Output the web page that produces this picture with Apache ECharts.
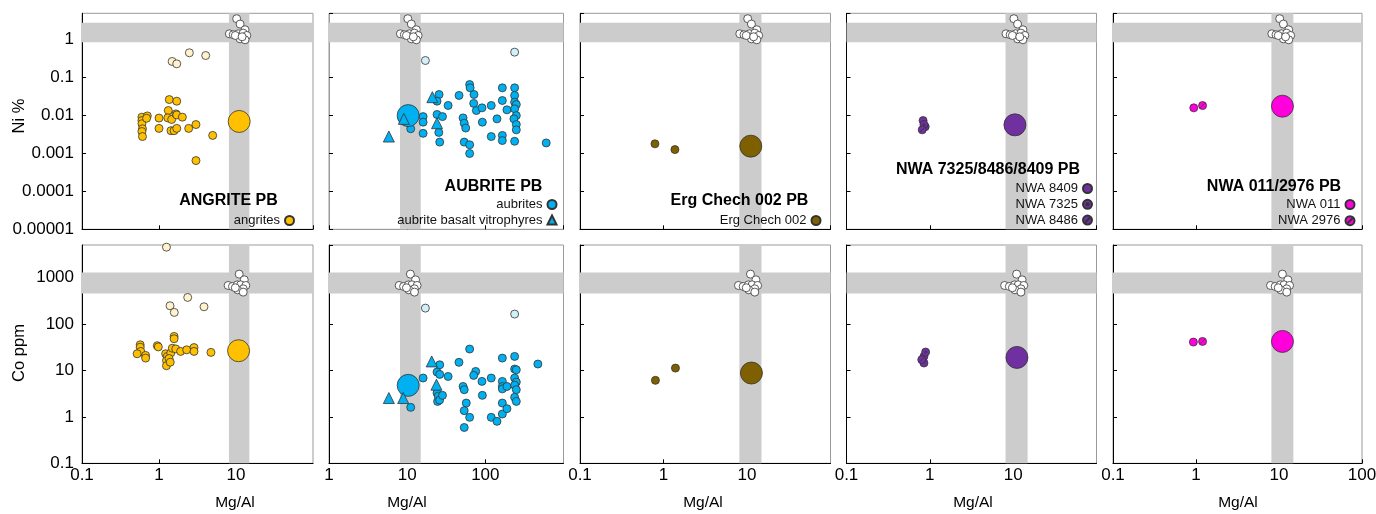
<!DOCTYPE html>
<html>
<head>
<meta charset="utf-8">
<script src="https://cdn.jsdelivr.net/npm/echarts@6/dist/echarts.min.js"></script>
<style>html,body{margin:0;padding:0;background:#fff;}#c{width:1376px;height:514px;}</style>
</head>
<body>
<div id="c"></div>
<script>
// ---------- axis ranges ----------
const xRanges = [[0.1, 100], [1, 1000], [0.1, 100], [0.1, 100], [0.1, 100]];
const yRangeNi = [0.00001, 5];
const yRangeCo = [0.1, 5000];
// reference bands
const bandMgAl = [8.1, 14.9];
const bandNi = [0.86, 2.8];
const bandCo = [450, 1280];

// ---------- chondrite reference (white) ----------
const chondNi = [[10.2,3.6],[11.3,2.6],[13.1,1.84],[8.2,1.44],[9.2,1.36],[10.7,1.44],[12.4,1.5],[13.8,1.3],[11.3,1.06],[13.1,1.0],[9.8,1.3],[12,1.2]];
const chondCo = [[11,1180],[12.8,890],[7.9,673],[9,640],[10.4,695],[11.5,695],[13.4,673],[12.4,570],[10.5,543],[12.4,484],[9.8,600]];

// ---------- angrites ----------
const angriteNi = [[0.6,0.0091],[0.6,0.0074],[0.6,0.0061],[0.61,0.0045],[0.6,0.0038],[0.61,0.0028],[0.705,0.0098],[0.69,0.0085],[1.0,0.0086],[1.0,0.0046],[1.36,0.0265],[1.7,0.024],[1.32,0.0136],[1.3,0.0087],[1.46,0.0079],[1.66,0.0111],[1.7,0.0104],[2.01,0.0091],[1.43,0.004],[1.57,0.004],[1.7,0.0046],[2.43,0.0046],[3.02,0.0058],[4.98,0.003],[3.02,0.00065]];
const angriteCo = [[0.57,35.6],[0.57,31.6],[0.58,25.6],[0.52,22.8],[0.67,21],[0.67,18.4],[0.95,34],[0.98,32],[1.22,22.8],[1.28,20],[1.25,16.3],[1.25,12.6],[1.42,23.7],[1.57,53.8],[1.57,48],[1.49,30],[1.65,29],[1.91,25.6],[2.29,27.7],[2.85,31],[2.85,25.6],[4.73,24.4],[1.35,18],[1.4,15]];
const angritePaleNi = [[1.48,0.268],[1.7,0.232],[2.48,0.454],[4.04,0.385]];
const angritePaleCo = [[1.25,4490],[1.39,246],[1.58,177],[2.36,372],[3.84,234]];
const angritePBNi = [[11,0.007]];
const angritePBCo = [[10.8,26.5]];

// ---------- aubrites ----------
const aubriteNi = [[11.1,0.0045],[16,0.0094],[16,0.0067],[16,0.0034],[25.6,0.036],[24.1,0.024],[24.1,0.0107],[28.3,0.0094],[25.4,0.0036],[26.1,0.002],[33.4,0.0185],[46.1,0.034],[63,0.066],[63.9,0.054],[71.6,0.036],[71,0.021],[76.8,0.0136],[90.6,0.016],[51.9,0.0087],[53.7,0.0063],[56.1,0.0047],[53.7,0.002],[63,0.0017],[63,0.001],[91.6,0.0067],[119,0.0185],[141,0.0082],[119,0.0028],[165,0.054],[165,0.025],[165,0.003],[165,0.0022],[189,0.0142],[237,0.054],[237,0.034],[237,0.0226],[249,0.0196],[237,0.0151],[249,0.01],[232,0.0082],[249,0.0058],[249,0.0042],[237,0.0021],[601,0.0019]];
const aubriteCo = [[11.1,1.6],[16,6.85],[26.1,13.2],[24.1,9.2],[26.1,8.2],[24.1,3.26],[25,2.8],[24.5,2.15],[26,2.3],[28.3,2.9],[33.4,7.4],[46,14.9],[63,28.8],[75.3,9.5],[71,7.8],[51.9,4.5],[53.7,3.84],[57,1.98],[53.7,1.36],[63,0.975],[53.7,0.59],[90.6,5.8],[91.6,2.9],[119,6.85],[119,0.975],[141,0.8],[165,18.4],[165,5.8],[165,4.5],[165,4.0],[165,1.98],[165,1.15],[189,4.5],[189,1.5],[237,20],[237,10.7],[249,10.3],[237,6.85],[249,5.6],[237,4.8],[249,3.84],[237,2.63],[249,2.15],[470,13.7]];
const vitroNi = [[5.83,0.0028],[9.06,0.0082],[21,0.0306],[24.1,0.0063]];
const vitroCo = [[5.83,2.54],[8.9,2.54],[20.6,15.6],[23.7,4.92]];
const aubritePaleNi = [[17.1,0.284],[237,0.472]];
const aubritePaleCo = [[17.1,219],[237,163]];
const aubritePBNi = [[10.3,0.01]];
const aubritePBCo = [[10.3,4.76]];

// ---------- Erg Chech 002 ----------
const ergNi = [[0.79,0.0018],[1.37,0.00127]];
const ergCo = [[0.8,6.1],[1.39,11.2]];
const ergPBNi = [[11.1,0.00156]];
const ergPBCo = [[11.3,8.77]];

// ---------- NWA 7325 / 8486 / 8409 ----------
const nwa8409Ni = [[0.83,0.0074],[0.88,0.0051]];
const nwa7325Ni = [[0.85,0.0058]];
const nwa8486Ni = [[0.81,0.0042]];
const nwa8409Co = [[0.85,20],[0.85,14.4]];
const nwa7325Co = [[0.89,24.8]];
const nwa8486Co = [[0.8,17]];
const nwaPBNi = [[10.5,0.0057]];
const nwaPBCo = [[11.1,19]];

// ---------- NWA 011 / 2976 ----------
const nwa011Ni = [[0.94,0.016]];
const nwa2976Ni = [[1.2,0.0184]];
const nwa011Co = [[0.93,40.7]];
const nwa2976Co = [[1.2,42]];
const nwa011PBNi = [[11,0.0177]];
const nwa011PBCo = [[11,42]];

// ---------- layout ----------
const FONT = '"Liberation Sans", Arial, sans-serif';
const colLayout = [
  {left: 82, width: 231},
  {left: 329, width: 234.5},
  {left: 580, width: 250.5},
  {left: 846.5, width: 250},
  {left: 1113, width: 249}
];
const rowLayout = [{top: 13.3, height: 216}, {top: 245, height: 218.3}];

const C_ANG = '#FFC000', C_ANG_P = '#FFF2CC';
const C_AUB = '#00B0F0', C_AUB_P = '#D2F0FB';
const C_ERG = '#7F6000';
const C_NWA = '#7030A0';
const C_MAG = '#FF00DC';
const EDGE = '#333';

const SYM_SLASH = 'path://M0,5A5,5,0,1,1,10,5A5,5,0,1,1,0,5ZM2.2,7.8L7.8,2.2';
const SYM_DOT = 'path://M0,5A5,5,0,1,1,10,5A5,5,0,1,1,0,5ZM3.8,5A1.2,1.2,0,1,1,6.2,5A1.2,1.2,0,1,1,3.8,5Z';

const fmt = v => String(parseFloat(Number(v).toPrecision(6)));

const grids = [], xAxes = [], yAxes = [], series = [];
for (let r = 0; r < 2; r++) {
  for (let c = 0; c < 5; c++) {
    const gi = r * 5 + c;
    grids.push({
      left: colLayout[c].left, width: colLayout[c].width,
      top: rowLayout[r].top, height: rowLayout[r].height,
      show: true, borderColor: '#9a9a9a', borderWidth: 1,
      containLabel: false, outerBoundsMode: 'none'
    });
    const axisLineColor = (r === 0 && c === 1) ? '#9a9a9a' : '#000';
    xAxes.push({
      type: 'log', logBase: 10, gridIndex: gi,
      min: xRanges[c][0], max: xRanges[c][1],
      axisLine: {show: true, lineStyle: {color: axisLineColor, width: 1}},
      axisTick: {show: true, inside: true, length: 4, lineStyle: {color: '#000'}},
      minorTick: {show: false},
      splitLine: {show: false},
      axisLabel: {show: r === 1, fontSize: 17, color: '#000', fontFamily: FONT, margin: 4,
                  showMinLabel: true, showMaxLabel: c === 4, formatter: fmt}
    });
    const yr = r === 0 ? yRangeNi : yRangeCo;
    yAxes.push({
      type: 'log', logBase: 10, gridIndex: gi,
      min: yr[0], max: yr[1],
      axisLine: {show: true, lineStyle: {color: axisLineColor, width: 1}},
      axisTick: {show: true, inside: true, length: 4, lineStyle: {color: '#000'}},
      minorTick: {show: false},
      splitLine: {show: false},
      axisLabel: {show: c === 0, fontSize: 17, color: '#000', fontFamily: FONT, margin: 8,
                  showMinLabel: true, showMaxLabel: false, formatter: fmt}
    });
    // reference bands + chondrites
    series.push({
      type: 'scatter', name: 'chondrites', xAxisIndex: gi, yAxisIndex: gi,
      data: r === 0 ? chondNi : chondCo, symbol: 'circle', symbolSize: 8, z: 3,
      itemStyle: {color: '#fff', borderColor: EDGE, borderWidth: 0.8, opacity: 1},
      markArea: {
        silent: true, z: 1,
        itemStyle: {color: '#cccccc', opacity: 1, borderWidth: 0},
        data: [
          [{xAxis: bandMgAl[0]}, {xAxis: bandMgAl[1]}],
          [{yAxis: (r === 0 ? bandNi : bandCo)[0]}, {yAxis: (r === 0 ? bandNi : bandCo)[1]}]
        ]
      }
    });
  }
}

function sc(gi, name, data, color, opts) {
  opts = opts || {};
  series.push(Object.assign({
    type: 'scatter', name: name, xAxisIndex: gi, yAxisIndex: gi, data: data,
    symbol: 'circle', symbolSize: 8, z: 4,
    itemStyle: {color: color, borderColor: EDGE, borderWidth: 0.8, opacity: 1}
  }, opts));
}
const PB = {symbolSize: 22, z: 5};
// row 0 = Ni, row 1 = Co
[0, 1].forEach(r => {
  const o = r * 5;
  const ni = r === 0;
  sc(o + 0, 'angrites pale', ni ? angritePaleNi : angritePaleCo, C_ANG_P);
  sc(o + 0, 'angrites', ni ? angriteNi : angriteCo, C_ANG);
  sc(o + 0, 'ANGRITE PB', ni ? angritePBNi : angritePBCo, C_ANG, PB);
  sc(o + 1, 'aubrites pale', ni ? aubritePaleNi : aubritePaleCo, C_AUB_P);
  sc(o + 1, 'aubrites', ni ? aubriteNi : aubriteCo, C_AUB);
  sc(o + 1, 'AUBRITE PB', ni ? aubritePBNi : aubritePBCo, C_AUB, PB);
  sc(o + 1, 'aubrite basalt vitrophyres', ni ? vitroNi : vitroCo, C_AUB, {symbol: 'triangle', symbolSize: 11, z: 6});
  sc(o + 2, 'Erg Chech 002', ni ? ergNi : ergCo, C_ERG);
  sc(o + 2, 'Erg Chech 002 PB', ni ? ergPBNi : ergPBCo, C_ERG, PB);
  sc(o + 3, 'NWA 8409', ni ? nwa8409Ni : nwa8409Co, C_NWA);
  sc(o + 3, 'NWA 7325', ni ? nwa7325Ni : nwa7325Co, C_NWA, {symbol: SYM_DOT});
  sc(o + 3, 'NWA 8486', ni ? nwa8486Ni : nwa8486Co, C_NWA, {symbol: SYM_SLASH});
  sc(o + 3, 'NWA 7325 PB', ni ? nwaPBNi : nwaPBCo, C_NWA, PB);
  sc(o + 4, 'NWA 011', ni ? nwa011Ni : nwa011Co, C_MAG);
  sc(o + 4, 'NWA 2976', ni ? nwa2976Ni : nwa2976Co, C_MAG, {symbol: SYM_SLASH});
  sc(o + 4, 'NWA 011 PB', ni ? nwa011PBNi : nwa011PBCo, C_MAG, PB);
});

function lg(names, right, top, gap) {
  return {
    data: names.map(n => ({name: n})), orient: 'vertical', align: 'right',
    right: right, top: top, padding: 0, itemGap: gap, itemWidth: 9, itemHeight: 9,
    selectedMode: false, z: 20,
    textStyle: {fontSize: 13, color: '#111', fontFamily: FONT, padding: [0, 0, 0, 0]}
  };
}
const legends = [
  lg(['angrites'], 1376 - 295, 214, 2.5),
  lg(['aubrites', 'aubrite basalt vitrophyres'], 1376 - 557.5, 198, 2.5),
  lg(['Erg Chech 002'], 1376 - 821.5, 214, 2.5),
  lg(['NWA 8409', 'NWA 7325', 'NWA 8486'], 1376 - 1093, 182, 2.8),
  lg(['NWA 011', 'NWA 2976'], 1376 - 1355.5, 198, 3.2)
];

function txt(x, y, s, size, bold, rot) {
  return {
    type: 'text', x: x, y: y, rotation: rot || 0, silent: true, z: 100,
    style: {text: s, fontSize: size, fontWeight: bold ? 'bold' : 'normal', fontFamily: FONT,
            fill: '#000', align: 'center', verticalAlign: 'middle'}
  };
}
const graphics = [
  txt(228.5, 201, 'ANGRITE PB', 16, true),
  txt(493.5, 187, 'AUBRITE PB', 16, true),
  txt(739.5, 201, 'Erg Chech 002 PB', 16, true),
  txt(988, 170, 'NWA 7325/8486/8409 PB', 16, true),
  txt(1274, 187, 'NWA 011/2976 PB', 16, true),
  txt(19, 116, 'Ni %', 16.5, false, Math.PI / 2),
  txt(19, 353, 'Co ppm', 16.5, false, Math.PI / 2),
  txt(235, 503, 'Mg/Al', 15.5),
  txt(407, 503, 'Mg/Al', 15.5),
  txt(703, 503, 'Mg/Al', 15.5),
  txt(973, 503, 'Mg/Al', 15.5),
  txt(1238, 503, 'Mg/Al', 15.5)
];

const chart = echarts.init(document.getElementById('c'), null, {renderer: 'canvas'});
chart.setOption({
  animation: false,
  backgroundColor: '#fff',
  textStyle: {fontFamily: FONT},
  grid: grids, xAxis: xAxes, yAxis: yAxes,
  legend: legends,
  series: series,
  graphic: graphics
});
</script>
</body>
</html>
